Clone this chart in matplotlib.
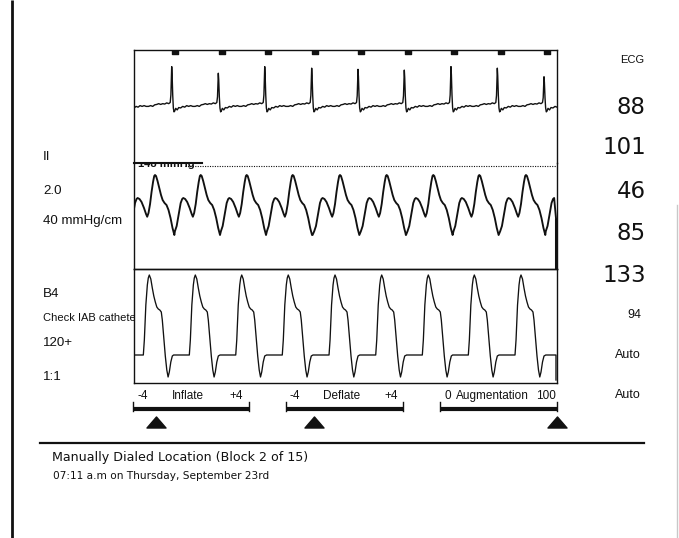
import numpy as np
import matplotlib
matplotlib.use("Agg")
import matplotlib.pyplot as plt
from matplotlib.path import Path

W, H = 679, 538
PX_PER_S = 68.05          # sweep speed of the monitor (px per second)

# ---------------- data ----------------
# ECG: R-wave times (s), R amplitudes (relative), beat template (ms, mV)
ecg_r_times = [-0.131, 0.554, 1.239, 1.921, 2.611, 3.292, 3.972, 4.658, 5.339, 6.025]
ecg_r_amp = [1.0, 1.01, 0.84, 1.01, 0.97, 0.94, 0.92, 1.01, 0.97, 0.75]
ecg_beat_ms = [-341, -309, -279, -250, -220, -191, -162, -132, -103, -73, -44, -22, -12, -4,
               0, 6, 15, 24, 34, 44, 59, 81, 103, 132, 162, 191, 220, 250, 279, 309, 341]
ecg_beat_mv = [-0.01, 0.01, -0.01, 0.03, 0.04, 0.06, 0.04, 0.06, 0.05, 0.08, 0.06, 0.09, 0.28, 0.72,
               1.0, 0.80, 0.28, -0.05, -0.15, -0.13, -0.06, -0.10, -0.04, -0.05, -0.01, -0.03,
               0.01, -0.01, 0.01, -0.01, -0.01]
sync_delay_ms = 50

# Arterial pressure: augmented-peak times (s), beat template (ms, mmHg)
abp_peak_times = [0.309, 0.980, 1.656, 2.332, 3.027, 3.713, 4.398, 5.074, 5.760, 6.430]
abp_beat_ms = [-403, -379, -353, -323, -294, -272, -256, -228, -198, -162, -132, -115, -96, -73,
               -51, -29, -12, 0, 15, 37, 63, 88, 112, 140, 169, 198, 228, 257, 276, 284]
abp_beat_mmhg = [46, 51.5, 59.3, 77, 93.3, 99.2, 100.7, 99.2, 94.8, 85.9, 77, 73, 78.5, 91.8,
                 109.6, 124.4, 133.2, 134.7, 133.2, 125.8, 115.5, 105.1, 97.7, 93.3, 90.3, 83.0,
                 71.1, 56.4, 49, 46]
abp_ref_mmhg = 148
abp_sweep_t, abp_sweep_mmhg = 6.201, 71

# Balloon (IAB) pressure: peak times (s), beat template (ms, mmHg)
iab_peak_times = [0.225, 0.901, 1.583, 2.267, 2.954, 3.640, 4.325, 5.001, 5.687, 6.370]
iab_beat_ms = [-319, -88, -73, -51, -29, -15, 0, 22, 44, 66, 88, 110, 132, 154, 176, 191, 213,
               235, 257, 276, 294, 316, 338, 363]
iab_beat_mmhg = [0, 0, 30, 100, 140, 154, 160, 152, 134, 118, 106, 96, 92, 90, 86, 70, 34,
                 -2, -30, -44, -34, -14, -2, 0]
iab_sweep_t, iab_sweep_mmhg = 6.201, -50

# Text content
left_labels = ["II", "2.0", "40 mmHg/cm", "B4", "Check IAB catheter", "120+", "1:1"]
right_big = ["88", "101", "46", "85", "133"]
right_small_top = "ECG"
right_small = ["94", "Auto", "Auto"]
inflate_setting, deflate_setting, augmentation_setting = -2.4, -2.1, 100
footer1 = "Manually Dialed Location (Block 2 of 15)"
footer2 = "07:11 a.m on Thursday, September 23rd"

# ---------------- helpers ----------------
NARROW = ["Liberation Sans Narrow", "DejaVu Sans Condensed", "Liberation Sans", "DejaVu Sans"]
INK = "#111111"


def build_trace(beats, tmpl_ms, tmpl_v, cut_ms, amps=None):
    off = np.asarray(tmpl_ms, float) / 1000.0
    base = np.asarray(tmpl_v, float)
    tt, vv = [], []
    for i, b in enumerate(beats):
        v = base.copy()
        if amps is not None:
            v = np.where(v > 0.15, v * amps[i], v)
        t = b + off
        lo = beats[i - 1] + cut_ms / 1000.0 - 0.008 if i > 0 else -np.inf
        hi = b + cut_ms / 1000.0
        m = (t > lo) & (t <= hi + 1e-9)
        tt.extend(t[m]); vv.extend(v[m])
    o = np.argsort(tt, kind="stable")
    return np.asarray(tt)[o], np.asarray(vv)[o]


fig = plt.figure(figsize=(W / 100, H / 100), dpi=100)
fig.patch.set_facecolor("white")
bg = fig.add_axes([0, 0, 1, 1])
bg.set_xlim(0, W); bg.set_ylim(H, 0); bg.axis("off"); bg.set_zorder(0)


def px_axes(x0, y0, x1, y1, z=2):
    ax = fig.add_axes([x0 / W, 1 - y1 / H, (x1 - x0) / W, (y1 - y0) / H])
    ax.set_zorder(z)
    ax.set_xticks([]); ax.set_yticks([])
    for s in ax.spines.values():
        s.set_linewidth(1.0); s.set_color(INK)
    return ax


X0, X1 = 134, 557
T_END = (X1 - X0) / PX_PER_S

# ---- ECG panel ----
ax_ecg = px_axes(X0, 50, X1, 163, z=2)
ax_ecg.set_xlim(0, T_END)
ax_ecg.set_ylim(-(163 - 106) / 39.0, (106 - 50) / 39.0)
ax_ecg.spines["bottom"].set_visible(False)
t, v = build_trace(ecg_r_times, ecg_beat_ms, ecg_beat_mv, 341, ecg_r_amp)
ax_ecg.plot(t, v, color=INK, lw=1.0)
sync_t = np.asarray(ecg_r_times) + sync_delay_ms / 1000.0
rect = Path([(-1, -0.6), (1, -0.6), (1, 0.6), (-1, 0.6), (-1, -0.6)], closed=True)
ax_ecg.plot(sync_t, np.full(len(sync_t), 0.986), transform=ax_ecg.get_xaxis_transform(),
            ls="none", marker=rect, ms=4.8, color=INK, clip_on=True)

# ---- Balloon pressure panel (drawn below the ABP panel so the shared line stays dark) ----
ax_iab = px_axes(X0, 269, X1, 383, z=2)
ax_iab.set_xlim(0, T_END)
ax_iab.set_ylim((355 - 383) * 2, (355 - 269) * 2)
t, v = build_trace(iab_peak_times, iab_beat_ms, iab_beat_mmhg, 363)
m = t <= iab_sweep_t - 0.01
t = np.append(t[m], [iab_sweep_t, iab_sweep_t]); v = np.append(v[m], [v[m][-1], iab_sweep_mmhg])
ax_iab.plot(t, v, color=INK, lw=0.95)

# ---- Arterial pressure panel ----
ax_abp = px_axes(X0, 163, X1, 269, z=3)
ax_abp.patch.set_alpha(0.0)
ax_abp.set_xlim(0, T_END)
ax_abp.set_ylim(abp_ref_mmhg - 103 * 1.478, abp_ref_mmhg + 3 * 1.478)
ax_abp.spines["top"].set_bounds(0, (202 - X0) / PX_PER_S)
ax_abp.spines["top"].set_linewidth(1.5)
t, v = build_trace(abp_peak_times, abp_beat_ms, abp_beat_mmhg, 284)
m = t <= abp_sweep_t - 0.012
t = np.append(t[m], abp_sweep_t); v = np.append(v[m], abp_sweep_mmhg)
ax_abp.plot(t, v, color=INK, lw=1.35, solid_joinstyle="round")
ax_abp.plot([abp_sweep_t, abp_sweep_t], [abp_sweep_mmhg, ax_abp.get_ylim()[0]],
            color=INK, lw=2.2, solid_capstyle="butt")
ax_abp.axhline(abp_ref_mmhg, xmin=(185 - X0) / (X1 - X0), xmax=1, color=INK, lw=0.8,
               ls=(0, (1.0, 1.2)))
ax_abp.text(0.01, abp_ref_mmhg - 1.5, f"{abp_ref_mmhg} mmHg", transform=ax_abp.get_yaxis_transform(),
            ha="left", va="baseline", fontsize=8, fontweight="bold", family=NARROW,
            color=INK, clip_on=True)

# ---- left labels ----
left_y = [157, 191, 221, 294, 318, 343, 377]
left_fs = [9.6, 9.6, 9.6, 9.6, 8.0, 9.6, 9.6]
for s, y, fs in zip(left_labels, left_y, left_fs):
    bg.text(43, y, s, ha="left", va="center", fontsize=fs, family=NARROW, color=INK)

# ---- right column ----
bg.text(644, 60, right_small_top, ha="right", va="center", fontsize=8, family=NARROW, color=INK)
for s, y in zip(right_big, [107, 148, 192, 233, 275]):
    bg.text(646, y, s, ha="right", va="center", fontsize=16.5, family="DejaVu Sans", color=INK)
for s, y in zip(right_small, [315, 355, 395]):
    bg.text(641, y, s, ha="right", va="center", fontsize=9.0, family=NARROW, color=INK)

# ---- timing / augmentation scales ----
tri = Path([(-1, -0.58), (1, -0.58), (0, 0.58), (-1, -0.58)], closed=True)
scales = [
    ((133, 249), (-4, 4), inflate_setting, ["-4", "Inflate", "+4"], [137, 188, 236]),
    ((286, 403), (-4, 4), deflate_setting, ["-4", "Deflate", "+4"], [290, 342, 391]),
    ((440, 557), (0, 100), augmentation_setting, ["0", "Augmentation", "100"], [447.5, 492.5, 545.5]),
]
for (xa, xb), (lo, hi), val, labels, lx in scales:
    ax_s = fig.add_axes([xa / W, 1 - 435 / H, (xb - xa) / W, 50 / H])
    ax_s.set_xlim(lo, hi); ax_s.set_ylim(435, 385); ax_s.axis("off"); ax_s.set_zorder(4)
    ax_s.plot([lo, hi], [408.8, 408.8], color=INK, lw=3.0, solid_capstyle="butt", clip_on=False)
    for xe in (lo, hi):
        ax_s.plot([xe, xe], [401.5, 411], color=INK, lw=1.0, clip_on=False)
    ax_s.plot([val], [421.5], ls="none", marker=tri, ms=13.7, color=INK, clip_on=False)
    for i, (s, x) in enumerate(zip(labels, lx)):
        ha = "left" if (i == 0 and s.startswith("-")) else "center"
        bg.text(x, 396, s, ha=ha, va="center", fontsize=8.5, family=NARROW, color=INK)

# ---- frame and footer ----
bg.plot([12, 12], [0, H], color=INK, lw=2.0, solid_capstyle="butt")
bg.plot([677, 677], [205, H], color="#c8c8c8", lw=1.0)
bg.plot([40, 644], [443, 443], color=INK, lw=1.6)
bg.text(52, 458, footer1, ha="left", va="center", fontsize=9.1, family="DejaVu Sans", color=INK)
bg.text(53, 476, footer2, ha="left", va="center", fontsize=7.6, family="DejaVu Sans", color=INK)

fig.savefig("out.png", dpi=100, facecolor="white")
